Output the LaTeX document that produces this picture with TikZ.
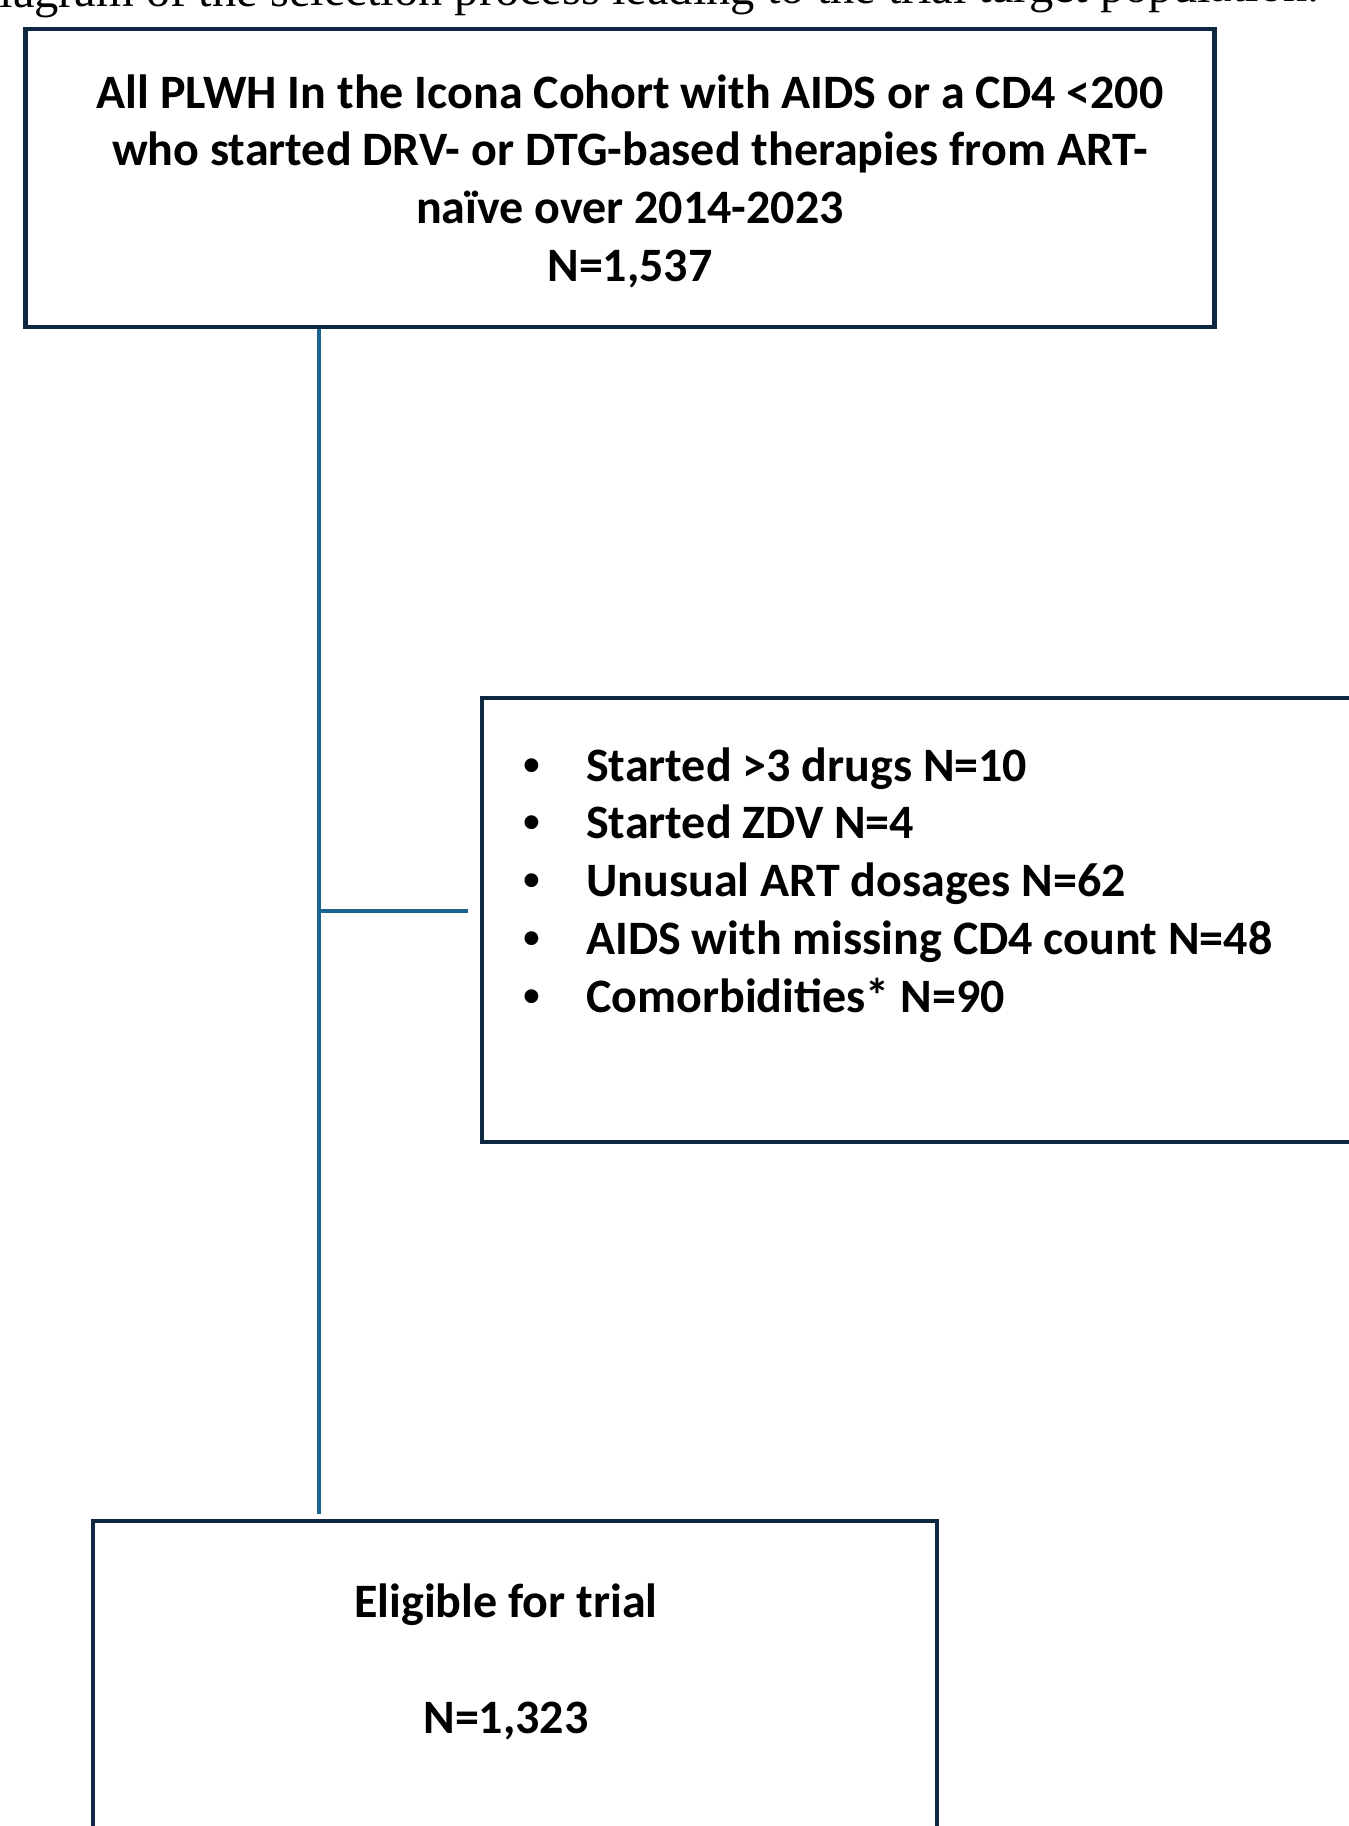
\documentclass[tikz,border=0pt]{standalone}
\usepackage{fontspec}
\setmainfont{Carlito}
\newfontfamily\capfont{Liberation Serif}
\newfontfamily\bulletfont{Liberation Sans}
\definecolor{boxnavy}{HTML}{0E2841}
\definecolor{linkblue}{HTML}{19658F}
\tikzset{
	flowbox/.style = {
		draw=boxnavy,
		line width=4.2pt,
		inner sep=0pt
	},
	box_top/.style = {
		flowbox,
		minimum width=1189pt,
		minimum height=298pt
	},
	box_side/.style = {
		flowbox,
		minimum width=918pt,
		minimum height=444pt
	},
	box_bottom/.style = {
		flowbox,
		minimum width=844pt,
		minimum height=378pt
	},
	box_text/.style = {
		inner sep=0pt,
		align=center,
		font=\bfseries\fontsize{48}{57.7}\selectfont
	},
	list_text/.style = {
		box_text,
		align=left,
		anchor=base west
	},
	caption/.style = {
		inner sep=0pt,
		anchor=base east,
		rotate=0.25,
		font=\capfont\fontsize{48.5}{58}\selectfont
	},
	link/.style = {
		draw=linkblue,
		line width=3.6pt
	}
}
\newcommand{\bulletmark}{\makebox[63pt][l]{\bulletfont •}}

\begin{document}
\begin{tikzpicture}[x=1pt, y=-1pt]
\useasboundingbox (0,0) rectangle (1349,1826);
\clip (0,0) rectangle (1349,1826);

% caption, cut by the page top
\node [caption] (caption) at (1320,1.5) {Diagram of the selection process leading to the trial target population.};

% boxes
\node [box_top] (cohort) at (620,178) {};
\node [box_text] (cohort_text) at (630,181) {All PLWH In the Icona Cohort with AIDS or a CD4 <200\\who started DRV- or DTG-based therapies from ART-\\naïve over 2014-2023\\N=1,537};
\node [box_side] (excluded) at (941,920) {};
\node [list_text] (reasons) at (523,1012) {%
\bulletmark Started >3 drugs N=10\\
\bulletmark Started ZDV N=4\\
\bulletmark Unusual ART dosages N=62\\
\bulletmark AIDS with missing CD4 count N=48\\
\bulletmark Comorbidities* N=90};
\node [box_bottom] (eligible) at (515,1710) {};
\node [box_text] (eligible_text) at (506,1662) {Eligible for trial\\[57.7pt]N=1,323};

% connectors
\coordinate (split) at (319,911);
\coordinate (trunk_end) at (319,1514);
\coordinate (branch_end) at (468,911);
\draw [link] (cohort.south -| split) -- (trunk_end);
\draw [link] (split) -- (branch_end);
\end{tikzpicture}
\end{document}
